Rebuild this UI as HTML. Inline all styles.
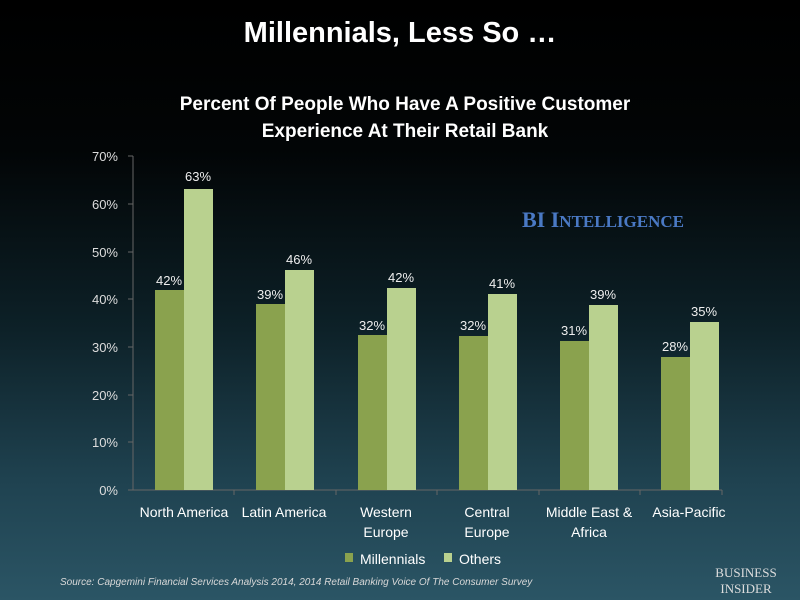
<!DOCTYPE html>
<html><head><style>
html,body{margin:0;padding:0;}
body{width:800px;height:600px;overflow:hidden;background:linear-gradient(to bottom,#000 0%,#020506 25%,#0d2128 55%,#1f4250 80%,#2b5565 100%);font-family:"Liberation Sans",sans-serif;}
svg{display:block;}
</style></head><body>
<svg width="800" height="600" xmlns="http://www.w3.org/2000/svg" font-family="Liberation Sans, sans-serif">
<text x="400" y="42" fill="#fff" font-size="29" font-weight="bold" text-anchor="middle">Millennials, Less So …</text>
<text x="405" y="110" fill="#fff" font-size="19" font-weight="bold" text-anchor="middle">Percent Of People Who Have A Positive Customer</text>
<text x="405" y="137" fill="#fff" font-size="19" font-weight="bold" text-anchor="middle">Experience At Their Retail Bank</text>
<text x="603" y="227" fill="#4a79c4" font-size="22" font-weight="bold" font-family="Liberation Serif, serif" text-anchor="middle">BI I<tspan font-size="17">NTELLIGENCE</tspan></text>
<g fill="#ddd" font-size="13" text-anchor="end">
<text x="118" y="495">0%</text><text x="118" y="447">10%</text><text x="118" y="400">20%</text><text x="118" y="352">30%</text><text x="118" y="304">40%</text><text x="118" y="257">50%</text><text x="118" y="209">60%</text><text x="118" y="161">70%</text>
</g>
<g stroke="#666" stroke-width="1">
<line x1="133" y1="156" x2="133" y2="490"/><line x1="128" y1="490" x2="722" y2="490"/>
<line x1="128" y1="156" x2="133" y2="156"/><line x1="128" y1="204" x2="133" y2="204"/><line x1="128" y1="252" x2="133" y2="252"/><line x1="128" y1="299" x2="133" y2="299"/><line x1="128" y1="347" x2="133" y2="347"/><line x1="128" y1="395" x2="133" y2="395"/><line x1="128" y1="442" x2="133" y2="442"/>
<line x1="234" y1="490" x2="234" y2="495"/><line x1="336" y1="490" x2="336" y2="495"/><line x1="437" y1="490" x2="437" y2="495"/><line x1="539" y1="490" x2="539" y2="495"/><line x1="640" y1="490" x2="640" y2="495"/><line x1="722" y1="490" x2="722" y2="495"/>
</g>
<g>
<rect x="155" y="290" width="29" height="200" fill="#8aa24e"/><rect x="184" y="189" width="29" height="301" fill="#b9d18f"/>
<rect x="256" y="304" width="29" height="186" fill="#8aa24e"/><rect x="285" y="270" width="29" height="220" fill="#b9d18f"/>
<rect x="358" y="335" width="29" height="155" fill="#8aa24e"/><rect x="387" y="288" width="29" height="202" fill="#b9d18f"/>
<rect x="459" y="336" width="29" height="154" fill="#8aa24e"/><rect x="488" y="294" width="29" height="196" fill="#b9d18f"/>
<rect x="560" y="341" width="29" height="149" fill="#8aa24e"/><rect x="589" y="305" width="29" height="185" fill="#b9d18f"/>
<rect x="661" y="357" width="29" height="133" fill="#8aa24e"/><rect x="690" y="322" width="29" height="168" fill="#b9d18f"/>
</g>
<g fill="#eee" font-size="13" text-anchor="middle">
<text x="169" y="285">42%</text><text x="198" y="181">63%</text>
<text x="270" y="299">39%</text><text x="299" y="264">46%</text>
<text x="372" y="330">32%</text><text x="401" y="282">42%</text>
<text x="473" y="330">32%</text><text x="502" y="288">41%</text>
<text x="574" y="335">31%</text><text x="603" y="299">39%</text>
<text x="675" y="351">28%</text><text x="704" y="316">35%</text>
</g>
<g fill="#fff" font-size="14" text-anchor="middle">
<text x="184" y="517">North America</text><text x="284" y="517">Latin America</text>
<text x="386" y="517">Western</text><text x="386" y="537">Europe</text>
<text x="487" y="517">Central</text><text x="487" y="537">Europe</text>
<text x="589" y="517">Middle East &amp;</text><text x="589" y="537">Africa</text>
<text x="689" y="517">Asia-Pacific</text>
</g>
<rect x="345" y="553" width="8" height="9" fill="#8aa24e"/>
<text x="360" y="564" fill="#fff" font-size="14">Millennials</text>
<rect x="444" y="553" width="8" height="9" fill="#b9d18f"/>
<text x="459" y="564" fill="#fff" font-size="14">Others</text>
<text x="60" y="585" fill="#d8d8d8" font-size="10" font-style="italic">Source: Capgemini Financial Services Analysis 2014, 2014 Retail Banking Voice Of The Consumer Survey</text>
<text x="746" y="577" fill="#ddd" font-size="13" font-family="Liberation Serif, serif" text-anchor="middle">BUSINESS</text>
<text x="746" y="593" fill="#ddd" font-size="13" font-family="Liberation Serif, serif" text-anchor="middle">INSIDER</text>
</svg>
</body></html>
